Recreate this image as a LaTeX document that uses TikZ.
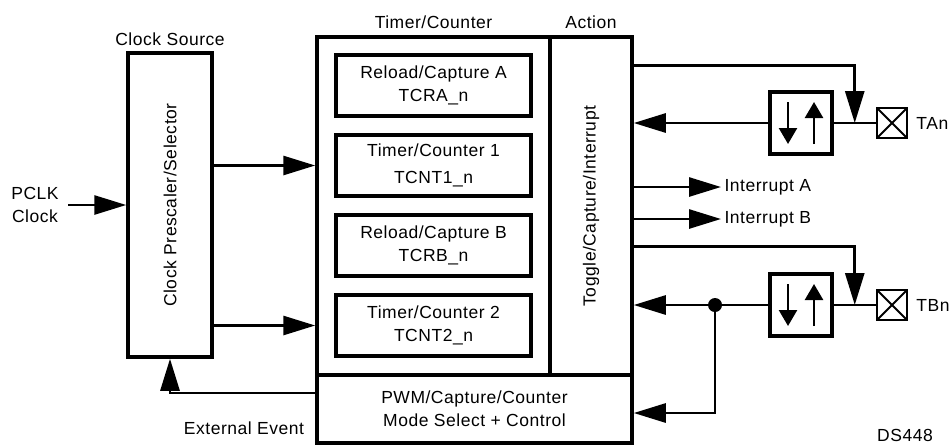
\documentclass[tikz,border=0pt]{standalone}
\usepackage{fontspec}
\setmainfont[LetterSpace=3]{Liberation Sans}
\usetikzlibrary{positioning, arrows.meta, calc}

\begin{document}
\begin{tikzpicture}[
  x=1pt, y=-1pt,
  font=\fontsize{17.5pt}{23pt}\selectfont,
  block/.style={
    rectangle, draw, line width=3.5pt,
    inner sep=0pt, align=center
  },
  regbox/.style={
    block, minimum width=195pt, minimum height=61pt
  },
  buffer/.style={
    block, minimum width=62pt, minimum height=62pt,
    path picture={
      \draw[line width=2.5pt, -{Triangle[length=16pt, width=18pt]}]
        ([xshift=-13pt, yshift=21pt]path picture bounding box.center) -- ++(0,-42pt);
      \draw[line width=2.5pt, -{Triangle[length=16pt, width=18pt]}]
        ([xshift=13pt, yshift=-21pt]path picture bounding box.center) -- ++(0,42pt);
    }
  },
  pad/.style={
    rectangle, draw, line width=2.5pt,
    minimum size=30pt, inner sep=0pt,
    path picture={
      \draw[line width=2pt]
        (path picture bounding box.north west) -- (path picture bounding box.south east)
        (path picture bounding box.south west) -- (path picture bounding box.north east);
    }
  },
  conn/.style={line width=2.8pt},
  arr/.style={conn, -{Triangle[length=32pt, width=19pt]}},
  dot/.style={circle, fill, inner sep=0pt, minimum size=14pt}
]
\useasboundingbox (0,0) rectangle (952,445);

% clock source
\node[block, minimum width=84pt, minimum height=304pt,
      label={[rotate=90]center:Clock Prescaler/Selector},
      label={[label distance=2pt]above:Clock Source}] (clk) at (170,205) {};
\node[align=center] (pclk) at (35,205) {PCLK\\Clock};

% timer/counter, action, mode select
\node[block, minimum width=233pt, minimum height=338pt,
      label={[label distance=3pt]above:Timer/Counter}] (tcbox) at (433.5,206) {};
\node[block, minimum width=82pt, minimum height=338pt,
      label={[rotate=90]center:Toggle/Capture/Interrupt},
      label={[label distance=3pt]above:Action}] (act) at (591,206) {};
\node[block, minimum width=315pt, minimum height=68pt] (pwm) at (474.5,409)
  {PWM/Capture/Counter\\Mode Select + Control};

\node[regbox] (rca) at (433.5,85.5) {Reload/Capture A\\TCRA\_n};
\node[regbox, below=15.5pt of rca] (tc1) {Timer/Counter 1\\[4pt]TCNT1\_n};
\node[regbox, below=15.5pt of tc1] (rcb) {Reload/Capture B\\TCRB\_n};
\node[regbox, below=15.5pt of rcb] (tc2) {Timer/Counter 2\\TCNT2\_n};

% pins
\node[buffer] (bufA) at (801,123) {};
\node[pad]    (padA) at (892,123) {};
\node[right=8pt of padA, inner sep=0pt] (ta) {TAn};
\node[buffer] (bufB) at (801,305) {};
\node[pad]    (padB) at (892,305) {};
\node[right=8pt of padB, inner sep=0pt] (tb) {TBn};
\coordinate (tapA) at ($(bufA.east)!.5!(padA.west)$);
\coordinate (tapB) at ($(bufB.east)!.5!(padB.west)$);
\node[dot] (jn) at (715,305) {};

\node[anchor=west] (intA) at (721,187) {Interrupt A};
\node[anchor=west] (intB) at (721,219) {Interrupt B};
\node (evt) at (244,428) {External Event};
\node[anchor=south, inner sep=0pt] (dsn) at (905,442) {DS448};

% connectors
\draw[arr, shorten <=6pt] (pclk.east) -- (clk.west);
\draw[arr] (clk.east |- tc1) -- (tc1 -| tcbox.west);
\draw[arr] (clk.east |- tc2) -- (tc2 -| tcbox.west);
\draw[arr] ([yshift=16pt]pwm.west) -| (clk.south);

\draw[arr] ([yshift=-30pt]act.north east) -| (tapA);
\draw[conn] (padA.west) -- (bufA.east);
\draw[arr] (bufA.west) -- (bufA.west -| act.east);
\draw[arr] (intA.west -| act.east) -- (intA.west);
\draw[arr] (intB.west -| act.east) -- (intB.west);
\draw[arr] ([yshift=-211pt]act.north east) -| (tapB);
\draw[conn] (padB.west) -- (bufB.east);
\draw[arr] (bufB.west) -- (bufB.west -| act.east);
\draw[arr] (jn.center) |- ([yshift=-4pt]pwm.east);
\end{tikzpicture}
\end{document}
